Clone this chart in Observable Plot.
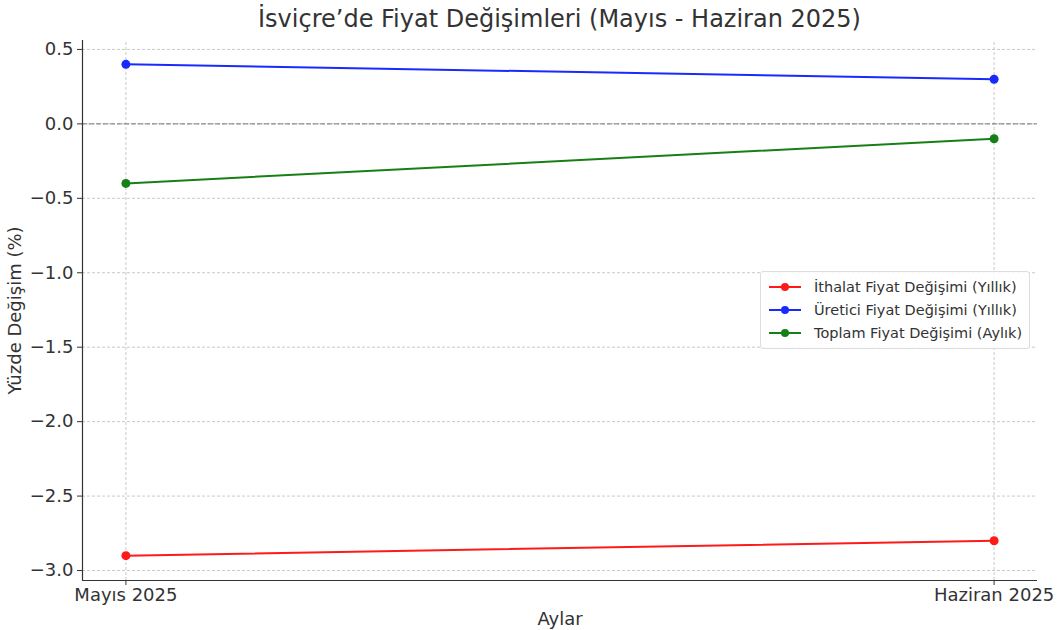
<!DOCTYPE html>
<html><head><meta charset="utf-8">
<script src="https://cdn.jsdelivr.net/npm/d3@7"></script>
<script src="https://cdn.jsdelivr.net/npm/@observablehq/plot@0.6"></script>
<style>
body{margin:0;background:#fff;font-family:"DejaVu Sans",sans-serif;}
#wrap{position:relative;width:1060px;height:630px;}
#title{position:absolute;left:0;top:5px;width:1119px;text-align:center;font-size:24px;color:#333;}
#chart{position:absolute;left:0;top:36px;}
#legend{position:absolute;left:760px;top:271px;width:268px;height:76px;border:1px solid #ddd;border-radius:3px;background:rgba(255,255,255,0.85);font-size:14.5px;color:#333;}
.item{position:absolute;left:0;height:22px;display:flex;align-items:center;}
.item svg{margin-left:6px;margin-right:11px;}
</style></head>
<body><div id="wrap"><div id="title">İsviçre’de Fiyat Değişimleri (Mayıs - Haziran 2025)</div><div id="chart"></div><div id="legend"></div></div>
<script>
const months = ["Mayıs 2025", "Haziran 2025"];
const seriesNames = ["İthalat Fiyat Değişimi (Yıllık)", "Üretici Fiyat Değişimi (Yıllık)", "Toplam Fiyat Değişimi (Aylık)"];
const ithalat = [-2.9, -2.8];
const uretici = [0.4, 0.3];
const toplam = [-0.4, -0.1];
const colors = ["#ff1a1a", "#1a2aff", "#168016"];
const yTicks = [0.5, 0.0, -0.5, -1.0, -1.5, -2.0, -2.5, -3.0];

const values = [ithalat, uretici, toplam];
const data = [];
values.forEach((arr, s) => arr.forEach((v, i) => data.push({i, v, s: seriesNames[s]})));

const yMin = -3.067, yMax = 0.56;
const chart = Plot.plot({
  width: 1060, height: 594,
  marginLeft: 82, marginRight: 23, marginTop: 4, marginBottom: 50,
  style: {fontFamily: "DejaVu Sans, sans-serif", fontSize: "18px", color: "#333", background: "transparent"},
  x: {domain: [-0.05, 1.05], ticks: [0, 1], tickFormat: i => months[i], label: null},
  y: {domain: [yMin, yMax], ticks: yTicks, tickFormat: d3.format(".1f"), label: null},
  color: {domain: seriesNames, range: colors},
  marks: [
    Plot.gridY(yTicks, {stroke: "#bbb", strokeOpacity: 0.8, strokeDasharray: "3,2"}),
    Plot.gridX([0, 1], {stroke: "#bbb", strokeOpacity: 0.8, strokeDasharray: "3,2", y1: yMin, y2: yMax}),
    Plot.ruleY([0], {stroke: "#777", strokeDasharray: "5,2", strokeWidth: 1}),
    Plot.line(data, {x: "i", y: "v", z: "s", stroke: "s", strokeWidth: 2}),
    Plot.dot(data, {x: "i", y: "v", fill: "s", r: 4.5}),
    Plot.ruleX([-0.05], {stroke: "#333", strokeWidth: 1.2}),
    Plot.ruleY([yMin], {stroke: "#333", strokeWidth: 1.2}),
    Plot.axisY({ticks: yTicks, tickFormat: d3.format(".1f"), tickSize: 5, tickPadding: 4, label: null, fontSize: 18}),
    Plot.axisX({ticks: [0, 1], tickFormat: i => months[i], tickSize: 5, tickPadding: 3, label: null, fontSize: 18}),
    Plot.text(["Aylar"], {frameAnchor: "bottom", dy: 44, fontSize: 18, fill: "#333"}),
    Plot.text(["Yüzde Değişim (%)"], {frameAnchor: "left", textAnchor: "middle", dx: -67, rotate: -90, fontSize: 18, fill: "#333"})
  ]
});
document.getElementById("chart").appendChild(chart);

const legend = document.getElementById("legend");
seriesNames.forEach((name, k) => {
  const d = document.createElement("div");
  d.className = "item";
  d.style.top = (4 + k * 23) + "px";
  d.innerHTML = `<svg width="36" height="10"><line x1="2" x2="34" y1="5" y2="5" stroke="${colors[k]}" stroke-width="2"/><circle cx="18" cy="5" r="4" fill="${colors[k]}"/></svg><span>${name}</span>`;
  legend.appendChild(d);
});
</script></body></html>
